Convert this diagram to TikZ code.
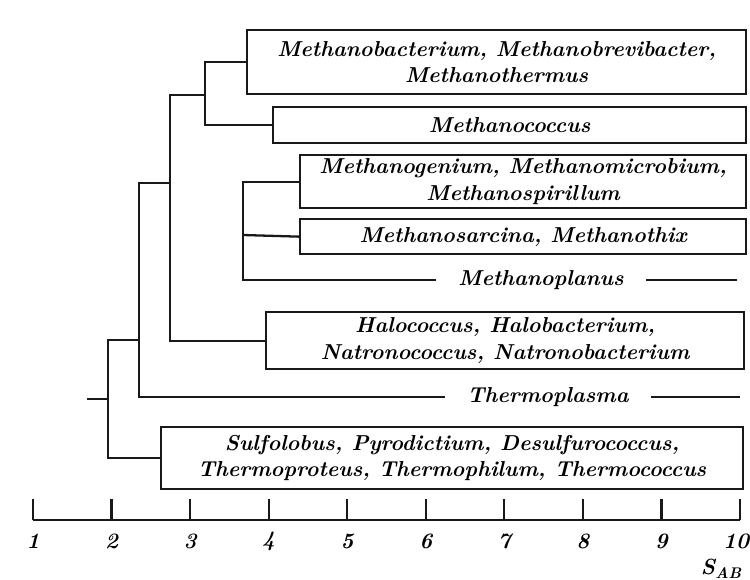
\documentclass[tikz,border=0pt]{standalone}
\usepackage{xcolor}
\usepackage{tikz}
\definecolor{inkblack}{RGB}{25, 25, 25}

\begin{document}
\begin{tikzpicture}[x=0.02cm, y=-0.02cm, line width=1.3pt, draw=inkblack,
    taxon/.style={draw=inkblack, anchor=north west, align=center, inner sep=0pt,
        font=\fontsize{12.3}{15}\selectfont\bfseries\itshape},
    lone/.style={inner xsep=0.42cm, inner ysep=0pt, font=\fontsize{12.3}{15}\selectfont\bfseries\itshape},
    tick/.style={font=\fontsize{12.5}{14}\selectfont\bfseries\itshape}]
    \useasboundingbox (0,0) rectangle (750,579);

    % Taxon boxes
    \node[taxon, minimum width=9.98cm, minimum height=1.28cm] (bact) at (246,29)
        {Methanobacterium, Methanobrevibacter,\\ Methanothermus};
    \node[taxon, minimum width=9.46cm, minimum height=0.72cm] (cocc) at (272,106)
        {Methanococcus};
    \node[taxon, minimum width=8.92cm, minimum height=1.06cm] (geni) at (299,154)
        {Methanogenium, Methanomicrobium,\\ Methanospirillum};
    \node[taxon, minimum width=8.92cm, minimum height=0.70cm] (sarc) at (299,218)
        {Methanosarcina, Methanothix};
    \node[taxon, minimum width=9.56cm, minimum height=1.14cm] (halo) at (265,311)
        {Halococcus, Halobacterium,\\ Natronococcus, Natronobacterium};
    \node[taxon, minimum width=11.64cm, minimum height=1.24cm] (sulf) at (160,426)
        {Sulfolobus, Pyrodictium, Desulfurococcus,\\ Thermoproteus, Thermophilum, Thermococcus};

    % Single genera on a line
    \node[lone] (plan) at (541,280) {Methanoplanus};
    \node[lone] (plasma) at (548,397) {Thermoplasma};
    \coordinate (planend) at (737,280);
    \coordinate (plasmaend) at (740,397);

    % Tree junctions
    \coordinate (jmeth) at (205,95);
    \coordinate (jhalo) at (170,183);
    \coordinate (jplasma) at (139,340);
    \coordinate (jsulf) at (108,399);
    \coordinate (root) at (87,399);
    \coordinate (jgeni) at (243,235);

    % Tree
    \draw (bact.west) -| (jmeth) |- (cocc.west);
    \draw (jmeth) -| (jhalo) |- (halo.west);
    \draw (jhalo) -| (jplasma) |- (plasma.west);
    \draw (jplasma) -| (jsulf) |- (sulf.west);
    \draw (root) -- (jsulf);
    \draw (geni.west) -| (jgeni) |- (plan.west);
    \draw (jgeni) -- (sarc.west);
    \draw (plan.east) -- (planend);
    \draw (plasma.east) -- (plasmaend);

    % Scale
    \coordinate (axl) at (33,520);
    \coordinate (axr) at (740,520);
    \draw (axl) -- (axr);
    \foreach \s in {1,...,9} {
        \pgfmathsetmacro{\xs}{33+(\s-1)*78.55}
        \draw (\xs,520) -- (\xs,499);
        \node[tick] (lab\s) at (\xs,541) {\s};
    }
    \draw (axr) -- (740,499);
    \node[tick] (lab10) at (736,541) {10};
    \node[tick, anchor=east] (sab) at (749,569) {S\textsubscript{AB}};
\end{tikzpicture}
\end{document}
